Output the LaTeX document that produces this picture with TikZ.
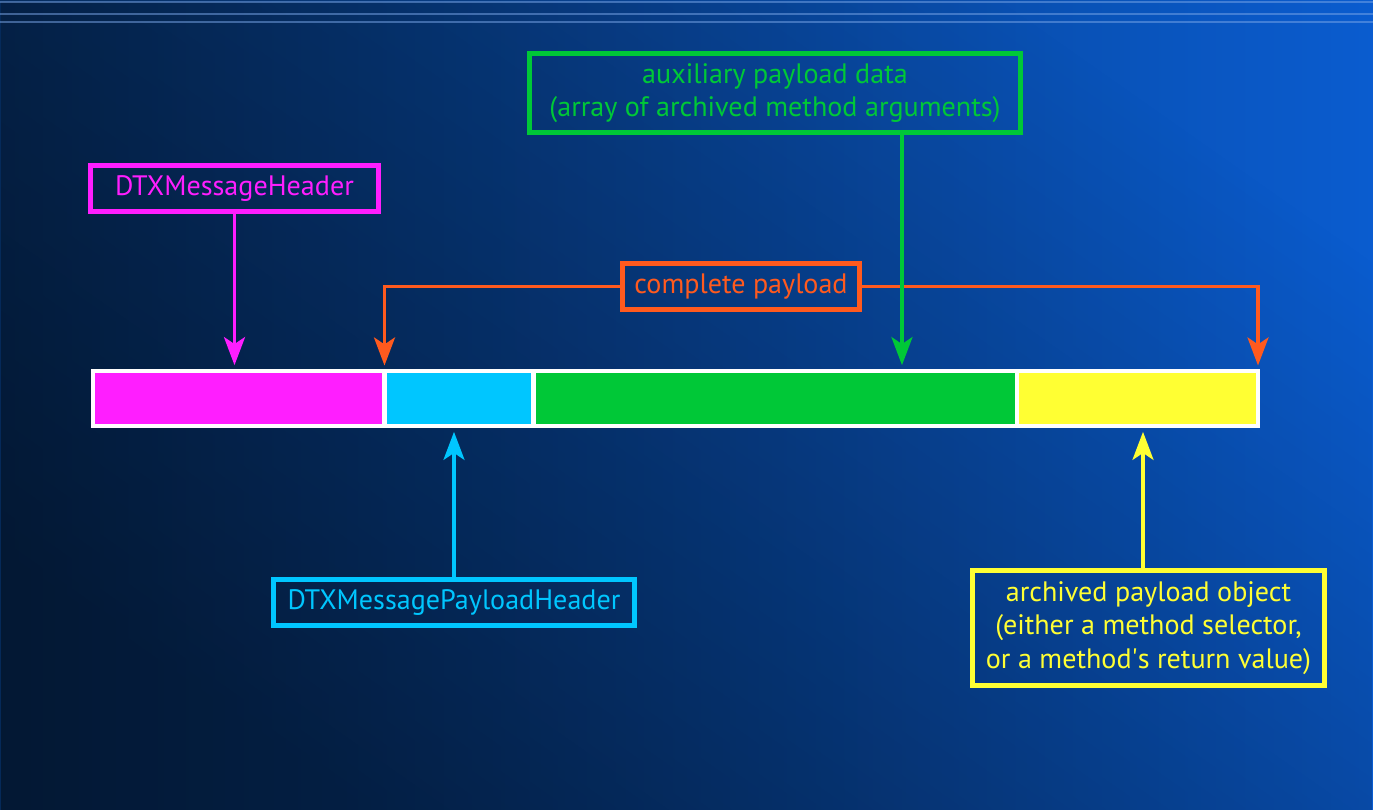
\documentclass[tikz,border=0pt]{standalone}
\usepackage{fontspec}
\setmainfont{PT Sans}
\usetikzlibrary{arrows.meta}
\usetikzlibrary{fadings}
\definecolor{mag}{HTML}{FF1EFF}
\definecolor{cyn}{HTML}{00C6FF}
\definecolor{grn}{HTML}{00C837}
\definecolor{ylw}{HTML}{FFFF33}
\definecolor{org}{HTML}{FF5A1E}
\definecolor{bgleft}{HTML}{062C5E}
\definecolor{bgright}{HTML}{0A5CCF}
\definecolor{rule}{HTML}{7AA6E8}

\begin{document}
\begin{tikzpicture}[x=0.02cm,y=-0.02cm,
  lbl/.style={draw,line width=2.8pt,inner sep=0pt,align=center,font=\fontsize{16}{19}\selectfont},
  seg/.style={inner sep=0pt,minimum height=1.02cm,anchor=west},
  arr/.style={line width=1.8pt,shorten >=2pt,-{Stealth[length=16pt,width=12pt,inset=4pt]}}]
\useasboundingbox (0,0) rectangle (1373,810);
\shade[left color=bgleft,right color=bgright] (0,0) rectangle (1373,810);
\fill[black,opacity=0.45,path fading=east,fading angle=40] (0,0) rectangle (1373,810);
\draw[rule,opacity=0.5,line width=0.6pt] (0,2) -- (1373,2);
\draw[rule,opacity=0.5,line width=0.6pt] (0,14) -- (1373,14);
\draw[rule,opacity=0.5,line width=0.6pt] (0,22) -- (1373,22);

\node[fill=white,inner sep=0pt,minimum width=23.38cm,minimum height=1.18cm] (bar) at (675.5,398.5) {};
\node[seg,fill=mag,minimum width=5.74cm] (hdrseg) at (95,398.5) {};
\node[seg,fill=cyn,minimum width=2.88cm] (phdseg) at (387,398.5) {};
\node[seg,fill=grn,minimum width=9.58cm] (auxseg) at (536,398.5) {};
\node[seg,fill=ylw,minimum width=4.74cm] (objseg) at (1019,398.5) {};

\node[lbl,mag,minimum width=5.76cm,minimum height=0.92cm] (hdr) at (234.5,188.5) {DTXMessageHeader};
\node[lbl,org,minimum width=4.74cm,minimum height=0.92cm] (full) at (741,286.5) {complete payload};
\node[lbl,grn,minimum width=9.82cm,minimum height=1.58cm] (aux) at (775,93) {auxiliary payload data\\(array of archived method arguments)};
\node[lbl,cyn,minimum width=7.22cm,minimum height=0.92cm] (phd) at (454,602.5) {DTXMessagePayloadHeader};
\node[lbl,ylw,minimum width=7.04cm,minimum height=2.3cm] (obj) at (1148.5,628) {archived payload object\\(either a method selector,\\or a method\textquotesingle s return value)};

\coordinate (cut1) at (384.5,369);
\coordinate (cut2) at (1258,369);
\draw[arr,mag] (hdr.south) -- (hdr.south |- bar.north);
\draw[arr,org] (full.west) -| (cut1);
\draw[arr,org] (full.east) -| (cut2);
\draw[arr,grn] ([xshift=2.54cm]aux.south) -- ([xshift=2.54cm]aux.south |- bar.north);
\draw[arr,cyn] (phd.north) -- (phd.north |- bar.south);
\draw[arr,ylw] ([xshift=-0.11cm]obj.north) -- ([xshift=-0.11cm]obj.north |- bar.south);
\end{tikzpicture}
\end{document}
